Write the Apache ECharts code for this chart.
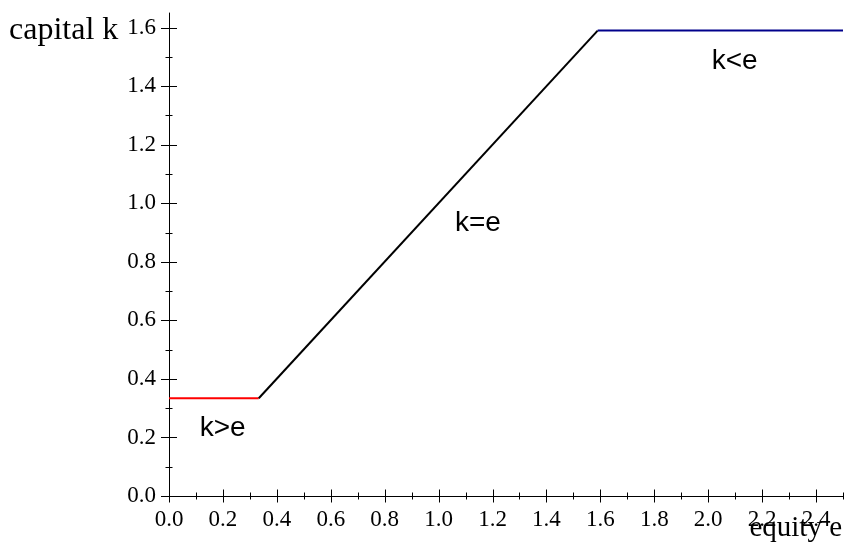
<!DOCTYPE html>
<html>
<head>
<meta charset="utf-8">
<script src="https://cdn.jsdelivr.net/npm/echarts@6/dist/echarts.min.js"></script>
<style>
html,body{margin:0;padding:0;background:#fff;}
#chart{width:847px;height:554px;}
</style>
</head>
<body>
<div id="chart"></div>
<script>
// ---- data ----
const lowE = [0, 0.333];        // k > e segment (equity)
const lowK = [0.334, 0.334];    // capital
const midE = [0.333, 1.59];     // k = e segment
const midK = [0.334, 1.59];
const highE = [1.59, 2.5];      // k < e segment
const highK = [1.59, 1.59];

const regionLabels = ['k>e', 'k=e', 'k<e'];
const regionE = [0.199, 1.146, 2.098];
const regionK = [0.231, 0.933, 1.485];

const xMajorTicks = [0, 0.2, 0.4, 0.6, 0.8, 1.0, 1.2, 1.4, 1.6, 1.8, 2.0, 2.2, 2.4];
const xMinorTicks = [0.1, 0.3, 0.5, 0.7, 0.9, 1.1, 1.3, 1.5, 1.7, 1.9, 2.1, 2.3, 2.5];
const yMajorTicks = [0, 0.2, 0.4, 0.6, 0.8, 1.0, 1.2, 1.4, 1.6];
const yMinorTicks = [0.1, 0.3, 0.5, 0.7, 0.9, 1.1, 1.3, 1.5];

const xTitle = 'equity e';
const yTitle = 'capital k';

// ---- chart ----
const X_MAX = 2.5, Y_MAX = 1.65;
const serif = 'Liberation Serif';
const pair = (a, b) => a.map((v, i) => [v, b[i]]);
const fmt = v => Number(v).toFixed(1);

// tick marks: [value, kind]  kind 0 = x major, 1 = x minor, 2 = y major, 3 = y minor
const tickData = [].concat(
  xMajorTicks.map(v => [v, 0]),
  xMinorTicks.map(v => [v, 1]),
  yMajorTicks.map(v => [v, 2]),
  yMinorTicks.map(v => [v, 3])
);
const TICK_HALF = [6.5, 3.5, 8, 3.5];

function renderTick(params, api) {
  const v = api.value(0), kind = api.value(1);
  const h = TICK_HALF[kind];
  let shape;
  if (kind < 2) {
    const p = api.coord([v, 0]);
    const x = Math.round(p[0]) + 0.5;
    shape = { x1: x, y1: p[1] - h, x2: x, y2: p[1] + h };
  } else {
    const p = api.coord([0, v]);
    const y = Math.round(p[1]) + 0.5;
    shape = { x1: p[0] - h, y1: y, x2: p[0] + h, y2: y };
  }
  return { type: 'line', shape: shape, style: { stroke: '#000', lineWidth: 1 } };
}

const axisCommon = (max, margin) => ({
  type: 'value', min: 0, max: max, interval: 0.1,
  splitLine: { show: false },
  axisLine: { show: true, lineStyle: { color: '#000', width: 1 } },
  axisTick: { show: false },
  axisLabel: { formatter: fmt, color: '#000', fontFamily: serif, fontSize: 23, margin: margin }
});

const xAxis = axisCommon(X_MAX, 12);
xAxis.axisLabel.customValues = xMajorTicks;
const yAxis = axisCommon(Y_MAX, 13);
yAxis.axisLabel.customValues = yMajorTicks;

const chart = echarts.init(document.getElementById('chart'), null, { renderer: 'canvas' });

const lineSeries = (data, color) => ({
  type: 'line', data: data,
  showSymbol: false, symbol: 'none', silent: true, animation: false,
  lineStyle: { color: color, width: 2 }
});

chart.setOption({
  backgroundColor: '#fff',
  animation: false,
  grid: { left: 169, right: 4, top: 13, bottom: 58, containLabel: false },
  xAxis: xAxis,
  yAxis: yAxis,
  series: [
    {
      type: 'custom', data: tickData, renderItem: renderTick, clip: false, silent: true,
      encode: { x: 0, y: 1 }, z: 1
    },
    lineSeries(pair(lowE, lowK), '#ff0000'),
    lineSeries(pair(midE, midK), '#000000'),
    lineSeries(pair(highE, highK), '#00008b'),
    {
      type: 'scatter', symbolSize: 0, silent: true,
      itemStyle: { opacity: 1, color: '#000' },
      data: regionLabels.map((n, i) => ({ name: n, value: [regionE[i], regionK[i]] })),
      label: {
        show: true, position: 'inside', formatter: '{b}', color: '#000', opacity: 1,
        textBorderWidth: 0, fontFamily: 'Liberation Sans', fontSize: 28
      }
    }
  ],
  graphic: [
    { type: 'text', left: 9, top: 15, style: { text: yTitle, font: '32px "Liberation Serif"', fill: '#000' } },
    { type: 'text', right: 5, top: 514, style: { text: xTitle, font: '29px "Liberation Serif"', fill: '#000' } }
  ]
});
</script>
</body>
</html>
